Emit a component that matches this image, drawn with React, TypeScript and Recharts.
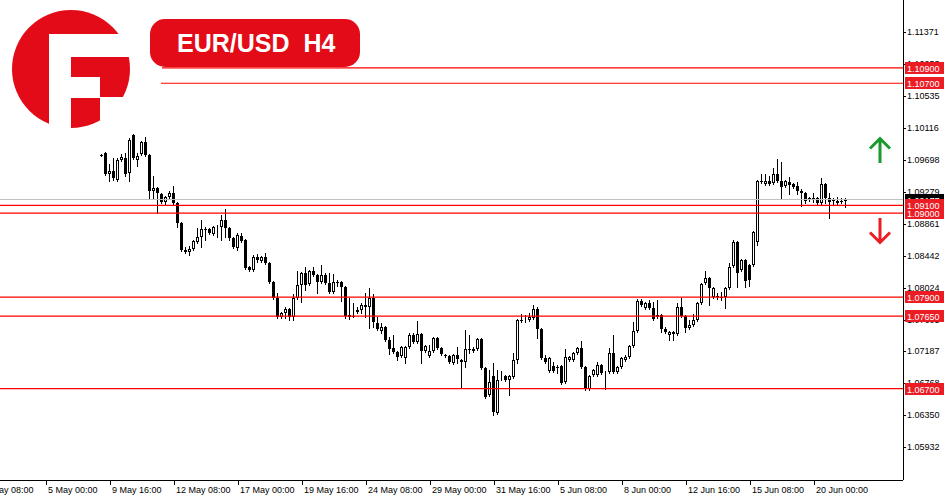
import React from 'react';
import { ComposedChart, Bar, XAxis, YAxis, ReferenceLine } from 'recharts';

const FONT = '"Liberation Sans", Arial, sans-serif';
const BRAND_RED = '#e30b17';
const TAG_RED = '#ec1c24';
const LINE_RED = '#ff0000';

const opens = [
  1.09759, 1.09786, 1.09511, 1.0955, 1.09432, 1.09694, 1.0972, 1.09524, 1.10021, 1.09694,
  1.09773, 1.0993, 1.09759, 1.09288, 1.09327, 1.09249, 1.09144, 1.09209, 1.09262, 1.09131,
  1.08869, 1.08515, 1.08489, 1.08528, 1.0862, 1.08685, 1.0879, 1.0879, 1.08725, 1.08816,
  1.08816, 1.08908, 1.08803, 1.08672, 1.08541, 1.08698, 1.08646, 1.08292, 1.08253, 1.08423,
  1.08371, 1.08423, 1.08345, 1.08096, 1.07886, 1.07637, 1.0769, 1.07742, 1.07637, 1.07886,
  1.08056, 1.08214, 1.0807, 1.0824, 1.08187, 1.08096, 1.08187, 1.08083, 1.07965, 1.08096,
  1.08096, 1.0803, 1.07663, 1.0765, 1.07729, 1.07729, 1.07794, 1.07768, 1.07886, 1.07559,
  1.07454, 1.07506, 1.07336, 1.07231, 1.07179, 1.07126, 1.071, 1.07244, 1.07401, 1.0731,
  1.07415, 1.07192, 1.07126, 1.07192, 1.07362, 1.07231, 1.0714, 1.07126, 1.07035, 1.0714,
  1.07074, 1.07048, 1.07218, 1.07192, 1.07218, 1.07349, 1.06969, 1.06615, 1.06864, 1.0638,
  1.06851, 1.06864, 1.06812, 1.06851, 1.07074, 1.07598, 1.07605, 1.07598, 1.07624, 1.07742,
  1.0748, 1.071, 1.0693, 1.06995, 1.06982, 1.06995, 1.06786, 1.07074, 1.07074, 1.07166,
  1.07231, 1.06982, 1.06694, 1.06877, 1.06877, 1.07008, 1.06904, 1.06917, 1.07166, 1.06917,
  1.06982, 1.07074, 1.07113, 1.07257, 1.07454, 1.07847, 1.07755, 1.07821, 1.07755, 1.07637,
  1.07663, 1.0748, 1.07401, 1.07415, 1.07415, 1.07768, 1.0765, 1.07493, 1.07532, 1.07598,
  1.07821, 1.08083, 1.08148, 1.07899, 1.07912, 1.07899, 1.07899, 1.08017, 1.08305, 1.0862,
  1.08253, 1.08384, 1.08318, 1.08318, 1.0862, 1.09419, 1.0938, 1.09419, 1.09393, 1.09511,
  1.09419, 1.09353, 1.09406, 1.0938, 1.09353, 1.09288, 1.09262, 1.0917, 1.09196, 1.09196,
  1.09131, 1.0938, 1.09196, 1.0917, 1.09131, 1.09157, 1.0917,
];

const highs = [
  1.09773, 1.09799, 1.09642, 1.0972, 1.0972, 1.09773, 1.09786, 1.09982, 1.10035, 1.09786,
  1.09943, 1.09995, 1.09773, 1.09484, 1.0934, 1.09262, 1.09222, 1.09288, 1.09353, 1.09144,
  1.08882, 1.08554, 1.08567, 1.08646, 1.08803, 1.08908, 1.08816, 1.08803, 1.08829, 1.08842,
  1.08974, 1.09052, 1.08816, 1.08685, 1.08738, 1.08738, 1.08659, 1.08305, 1.08449, 1.08463,
  1.08436, 1.08476, 1.08358, 1.08109, 1.07952, 1.07703, 1.07768, 1.07755, 1.07939, 1.0824,
  1.08227, 1.08292, 1.08253, 1.08292, 1.082, 1.08318, 1.08214, 1.08214, 1.082, 1.08122,
  1.08109, 1.08043, 1.07886, 1.07821, 1.07768, 1.07821, 1.07952, 1.08017, 1.07939, 1.07637,
  1.07559, 1.07519, 1.07375, 1.07401, 1.07192, 1.07257, 1.07257, 1.07428, 1.07428, 1.07585,
  1.07428, 1.0727, 1.0727, 1.07375, 1.07375, 1.07244, 1.07153, 1.0714, 1.07153, 1.07244,
  1.07087, 1.07467, 1.07401, 1.07244, 1.07362, 1.07362, 1.06982, 1.06943, 1.07035, 1.06943,
  1.0693, 1.06877, 1.06877, 1.07166, 1.07611, 1.07677, 1.07663, 1.0769, 1.07794, 1.07768,
  1.07493, 1.0714, 1.07113, 1.07048, 1.07008, 1.07008, 1.07218, 1.07126, 1.07179, 1.07244,
  1.07323, 1.06995, 1.06877, 1.06956, 1.07048, 1.07022, 1.0693, 1.07231, 1.07401, 1.06995,
  1.07113, 1.0714, 1.0727, 1.07572, 1.07873, 1.07873, 1.07834, 1.0786, 1.07834, 1.0786,
  1.07677, 1.07506, 1.07454, 1.07454, 1.07821, 1.07886, 1.07663, 1.07598, 1.07677, 1.07834,
  1.08083, 1.0824, 1.08161, 1.0803, 1.07952, 1.07965, 1.0803, 1.08345, 1.08646, 1.08633,
  1.08397, 1.08397, 1.08332, 1.08764, 1.09432, 1.09511, 1.09511, 1.09484, 1.09589, 1.09707,
  1.09668, 1.09432, 1.09471, 1.09393, 1.09406, 1.09314, 1.09275, 1.09209, 1.09262, 1.09209,
  1.09458, 1.09393, 1.09262, 1.09196, 1.09209, 1.09196, 1.09196,
];

const lows = [
  1.09746, 1.09497, 1.09419, 1.09432, 1.09419, 1.09681, 1.09484, 1.09419, 1.09707, 1.09615,
  1.09759, 1.09746, 1.09183, 1.09183, 1.09, 1.09131, 1.09118, 1.09196, 1.09118, 1.08816,
  1.08502, 1.08476, 1.08449, 1.08515, 1.08607, 1.08554, 1.08646, 1.08725, 1.08711, 1.08685,
  1.08646, 1.08685, 1.08646, 1.08541, 1.08515, 1.0862, 1.08266, 1.0824, 1.0824, 1.08358,
  1.08358, 1.08332, 1.08083, 1.07873, 1.07624, 1.07624, 1.07624, 1.07598, 1.07598, 1.07873,
  1.07834, 1.07991, 1.08056, 1.08174, 1.07952, 1.08083, 1.0807, 1.07952, 1.07952, 1.08043,
  1.07847, 1.07624, 1.07611, 1.07637, 1.0769, 1.0769, 1.07637, 1.07493, 1.07506, 1.07467,
  1.07428, 1.07323, 1.07153, 1.07166, 1.07074, 1.07113, 1.07035, 1.07231, 1.07297, 1.07297,
  1.07035, 1.07179, 1.07113, 1.07179, 1.07218, 1.0714, 1.07113, 1.07035, 1.07022, 1.07035,
  1.0672, 1.06982, 1.07166, 1.07179, 1.07205, 1.06956, 1.06576, 1.06602, 1.06353, 1.06366,
  1.06812, 1.06799, 1.06615, 1.06838, 1.07035, 1.07572, 1.07572, 1.07585, 1.07611, 1.07362,
  1.07087, 1.07035, 1.06917, 1.06917, 1.06904, 1.0676, 1.06773, 1.07061, 1.07061, 1.07153,
  1.06969, 1.06681, 1.06681, 1.06864, 1.06864, 1.0689, 1.06694, 1.06904, 1.06904, 1.06904,
  1.06969, 1.07061, 1.071, 1.07244, 1.07441, 1.07781, 1.07742, 1.07742, 1.07598, 1.07624,
  1.07441, 1.07428, 1.07336, 1.07336, 1.07401, 1.07637, 1.07441, 1.0748, 1.07519, 1.07585,
  1.07808, 1.0807, 1.07794, 1.07886, 1.07873, 1.0786, 1.07755, 1.08004, 1.08292, 1.0803,
  1.0824, 1.0803, 1.08043, 1.08305, 1.0858, 1.09393, 1.09367, 1.09367, 1.0938, 1.09406,
  1.09196, 1.0934, 1.09249, 1.09327, 1.09249, 1.09091, 1.09131, 1.09157, 1.09144, 1.09104,
  1.09118, 1.09131, 1.08934, 1.09118, 1.09118, 1.09131, 1.09078,
];

const closes = [
  1.09755, 1.09511, 1.0955, 1.09458, 1.09694, 1.09733, 1.09511, 1.09956, 1.0972, 1.09746,
  1.0993, 1.09759, 1.09288, 1.09327, 1.09262, 1.09144, 1.09209, 1.09262, 1.09131, 1.08869,
  1.08515, 1.08489, 1.08528, 1.08633, 1.08685, 1.0879, 1.08797, 1.08738, 1.08816, 1.08829,
  1.08908, 1.08803, 1.08672, 1.08554, 1.08711, 1.08633, 1.08279, 1.08253, 1.08423, 1.08384,
  1.08423, 1.08345, 1.08096, 1.07886, 1.07637, 1.0769, 1.07742, 1.07637, 1.07886, 1.08056,
  1.08214, 1.08056, 1.0824, 1.08187, 1.08096, 1.08187, 1.08083, 1.07965, 1.08096, 1.08102,
  1.0803, 1.0765, 1.07637, 1.07657, 1.07703, 1.07794, 1.07768, 1.07886, 1.07572, 1.0748,
  1.07506, 1.07336, 1.07218, 1.07179, 1.07113, 1.07244, 1.07244, 1.07401, 1.0731, 1.07415,
  1.07192, 1.07257, 1.07192, 1.07362, 1.07231, 1.07153, 1.07133, 1.07048, 1.0714, 1.07087,
  1.07048, 1.07218, 1.07211, 1.07218, 1.07349, 1.06969, 1.06589, 1.06786, 1.06393, 1.06812,
  1.06864, 1.06812, 1.06864, 1.07074, 1.07598, 1.07605, 1.07611, 1.07637, 1.07742, 1.0748,
  1.071, 1.07048, 1.071, 1.0693, 1.06989, 1.06773, 1.07113, 1.07113, 1.07166, 1.07231,
  1.06982, 1.06694, 1.06864, 1.06943, 1.07008, 1.06904, 1.06917, 1.07166, 1.06917, 1.06982,
  1.071, 1.07113, 1.07257, 1.07454, 1.07847, 1.07794, 1.07821, 1.07755, 1.07611, 1.07663,
  1.0748, 1.07441, 1.07441, 1.07441, 1.07768, 1.0765, 1.07493, 1.07532, 1.07598, 1.07821,
  1.0807, 1.08148, 1.08017, 1.08017, 1.07919, 1.07906, 1.08017, 1.08292, 1.0862, 1.08214,
  1.08384, 1.08109, 1.08122, 1.08751, 1.09419, 1.09425, 1.09419, 1.0938, 1.09511, 1.09419,
  1.0934, 1.09419, 1.09367, 1.0934, 1.09288, 1.09262, 1.09157, 1.09196, 1.09203, 1.09131,
  1.0938, 1.09196, 1.09144, 1.09163, 1.09157, 1.09163, 1.09177,
];

const tickIndex = [-30, -14, 2, 18, 34, 50, 66, 82, 98, 114, 130, 146, 162, 178];
const tickLabels = [
  '2 May 08:00', '5 May 00:00', '9 May 16:00', '12 May 08:00', '17 May 00:00', '19 May 16:00',
  '24 May 08:00', '29 May 00:00', '31 May 16:00', '5 Jun 08:00', '8 Jun 00:00', '12 Jun 16:00',
  '15 Jun 08:00', '20 Jun 00:00',
];
const priceTicks = [
  1.11371, 1.10953, 1.10535, 1.10116, 1.09698, 1.09279, 1.08861, 1.08442, 1.08024, 1.07605,
  1.07187, 1.06768, 1.0635, 1.05932,
];
const upperLevels = [1.109, 1.107];
const upperStarts = [15, 14.75];
const fullLevels = [1.079, 1.0765, 1.067, 1.09, 1.091];

const data = opens.map((o, i) => ({
  i,
  open: o,
  high: highs[i],
  low: lows[i],
  close: closes[i],
  range: [lows[i], highs[i]],
}));
const lastClose = closes[closes.length - 1];

function Candle(props: any) {
  const { x, y, width, height, payload } = props;
  if (!payload || height == null || isNaN(y)) return null;
  const { open, close, high, low } = payload;
  const span = high - low || 1e-9;
  const toPx = (v: number) => y + ((high - v) / span) * height;
  const cx = Math.floor(x + width / 2) + 0.5;
  const yH = Math.round(toPx(high));
  const yL = Math.round(toPx(low));
  const top = Math.round(toPx(Math.max(open, close)));
  const bot = Math.round(toPx(Math.min(open, close)));
  const bull = close > open;
  let body;
  if (bot - top < 1) {
    body = <line x1={cx - 1.5} x2={cx + 1.5} y1={top + 0.5} y2={top + 0.5} stroke="#000" strokeWidth={1} />;
  } else if (bull) {
    body = <rect x={cx - 1} y={top + 0.5} width={2} height={Math.max(0, bot - top - 1)} fill="#fff" stroke="#000" strokeWidth={1} />;
  } else {
    body = <rect x={cx - 1.5} y={top} width={3} height={bot - top} fill="#000" />;
  }
  return (
    <g>
      <line x1={cx} x2={cx} y1={yH} y2={Math.max(yL + 1, yH + 1)} stroke="#000" strokeWidth={1} />
      {body}
    </g>
  );
}

function XTick(props: any) {
  const { x, y, payload } = props;
  const idx = tickIndex.indexOf(payload.value);
  const px = Math.round(x) + 0.5;
  return (
    <g>
      <line x1={px} x2={px} y1={y} y2={y + 5} stroke="#000" strokeWidth={1} />
      <text x={px + 1.5} y={y + 13} fontSize={9} fontFamily={FONT} fill="#000" textAnchor="start">
        {idx >= 0 ? tickLabels[idx] : ''}
      </text>
    </g>
  );
}

// price-axis tick mark + text, drawn as the label of an invisible reference line
function PriceTick(props: any) {
  const { viewBox, text } = props;
  if (!viewBox) return null;
  const x0 = Math.round(viewBox.x + viewBox.width);
  const py = Math.round(viewBox.y) + 0.5;
  return (
    <g>
      <line x1={x0} x2={x0 + 3} y1={py} y2={py} stroke="#000" strokeWidth={1} />
      <text x={x0 + 4} y={py + 2.5} fontSize={9} fontFamily={FONT} fill="#000" textAnchor="start">
        {text}
      </text>
    </g>
  );
}

function Tag(props: any) {
  const { viewBox, text, bg } = props;
  if (!viewBox) return null;
  const yy = Math.round(viewBox.y);
  const x0 = Math.round(viewBox.x + viewBox.width) + 2;
  return (
    <g>
      <rect x={x0} y={yy - 6} width={39} height={12} fill={bg} />
      <text x={x0 + 2} y={yy + 3.5} fontSize={9} fontFamily={FONT} fill="#fff" textAnchor="start">
        {text}
      </text>
    </g>
  );
}

function Overlay() {
  return (
    <svg
      width={950}
      height={500}
      style={{ position: 'absolute', left: 0, top: 0, pointerEvents: 'none' }}
    >
      {/* logo */}
      <circle cx={71} cy={69} r={59} fill={BRAND_RED} />
      <rect x={49} y={34} width={22} height={96} fill="#fff" />
      <rect x={49} y={34} width={90} height={23} fill="#fff" />
      <rect x={71} y={77} width={29} height={21} fill="#fff" />
      <rect x={100} y={97} width={40} height={33} fill="#fff" />
      {/* title */}
      <rect x={150} y={19} width={210} height={48} rx={15} ry={15} fill={BRAND_RED} />
      <text x={177} y={52} fontSize={25} fontWeight="bold" fontFamily={FONT} fill="#fff">
        {'EUR/USD\u00a0\u00a0H4'}
      </text>
      {/* arrows */}
      <path d="M880 163 V139 M870 148.5 L880 138.5 L890 148.5" stroke="#1a9a2a" strokeWidth={3} fill="none" />
      <path d="M880 218 V242 M870 232.5 L880 242.5 L890 232.5" stroke={TAG_RED} strokeWidth={3} fill="none" />
    </svg>
  );
}

export default function App() {
  return (
    <div style={{ position: 'absolute', left: 0, top: 0, width: 950, height: 500, background: '#fff' }}>
      <ComposedChart
        width={950}
        height={500}
        data={data}
        margin={{ top: 0, right: 0, bottom: 0, left: 0 }}
      >
        <XAxis
          dataKey="i"
          type="number"
          domain={[-25.5, 200.25]}
          allowDataOverflow
          ticks={tickIndex}
          interval={0}
          height={20}
          tickSize={0}
          tickMargin={0}
          tickLine={false}
          axisLine={{ stroke: '#000', shapeRendering: 'crispEdges' }}
          tick={<XTick />}
        />
        <YAxis
          yAxisId={0}
          orientation="right"
          type="number"
          domain={[1.05504, 1.1179]}
          allowDataOverflow
          ticks={priceTicks}
          interval={0}
          width={47}
          tickSize={0}
          tickMargin={0}
          tickLine={false}
          axisLine={{ stroke: '#000', shapeRendering: 'crispEdges' }}
          tick={false}
        />
        <Bar dataKey="range" barSize={3} isAnimationActive={false} shape={(p: any) => <Candle {...p} />} />
        {priceTicks.map((t, n) => (
          <ReferenceLine
            key={'t' + n}
            y={t}
            stroke="none"
            strokeOpacity={0}
            ifOverflow="visible"
            label={<PriceTick text={t.toFixed(5)} />}
          />
        ))}
        <ReferenceLine
          y={lastClose}
          stroke="#c0c0c0"
          strokeWidth={1}
          ifOverflow="visible"
          label={<Tag text={lastClose.toFixed(5)} bg="#000" />}
        />
        {upperLevels.map((lv, n) => (
          <ReferenceLine
            key={'u' + n}
            segment={[{ x: upperStarts[n], y: lv }, { x: 200.25, y: lv }]}
            stroke={LINE_RED}
            strokeOpacity={1}
            strokeWidth={1.2}
            ifOverflow="visible"
            label={<Tag text={lv.toFixed(5)} bg={TAG_RED} />}
          />
        ))}
        {fullLevels.map((lv, n) => (
          <ReferenceLine
            key={'f' + n}
            y={lv}
            stroke={LINE_RED}
            strokeOpacity={1}
            strokeWidth={1.2}
            ifOverflow="visible"
            label={<Tag text={lv.toFixed(5)} bg={TAG_RED} />}
          />
        ))}
      </ComposedChart>
      <Overlay />
    </div>
  );
}
